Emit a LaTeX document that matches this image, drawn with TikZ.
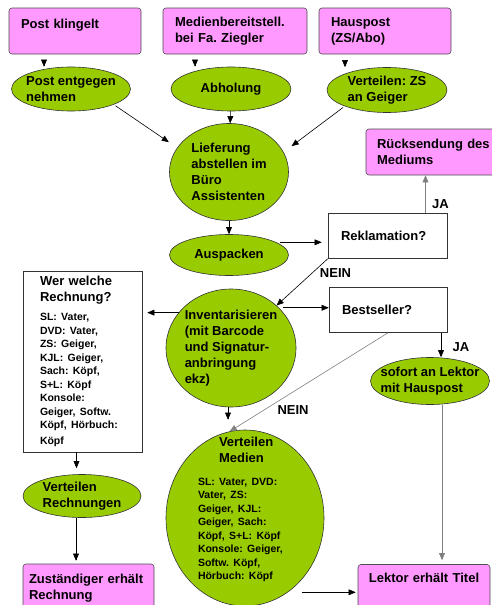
\documentclass[tikz,border=0pt]{standalone}
\usepackage{fontspec}
\setmainfont{Liberation Sans}
\usetikzlibrary{arrows,shapes}
\definecolor{grn}{HTML}{99CC00}
\definecolor{pnk}{HTML}{FF99FF}
\frenchspacing
\tikzset{
  pbox/.style={draw=black!70,fill=pnk,rounded corners=3pt,align=left,minimum height=46pt,inner xsep=12pt},
  qbox/.style={draw=black!80,fill=white,align=left,minimum height=45pt,inner xsep=13pt},
  blob/.style={draw=black!80,fill=grn,ellipse,align=left,inner xsep=-12pt,inner ysep=-12pt}
}

\begin{document}
\begin{tikzpicture}[x=1pt,y=-1pt,line width=.6pt,every node/.style={font=\bfseries\fontsize{13}{16}\selectfont}]
\useasboundingbox (0,0) rectangle (491,605);
\node[pbox,text width=108pt,text depth=14pt] (pk) at (75,31) {Post klingelt};
\node[pbox,text width=120pt] (mb) at (235,31) {Medienbereitstell.\\bei Fa. Ziegler};
\node[pbox,text width=108pt] (hp) at (385,31) {Hauspost\\(ZS/Abo)};
\node[blob,minimum width=119pt,minimum height=44pt] (pe) at (71,89) {Post entgegen\\nehmen};
\node[blob,minimum width=120pt,minimum height=44pt] (ab) at (231,89) {Abholung};
\node[blob,minimum width=120pt,minimum height=45pt] (vz) at (387,90) {Verteilen: ZS\\an Geiger};
\node[blob,minimum width=119pt,minimum height=97pt] (lief) at (229,172) {Lieferung\\abstellen im\\Büro\\Assistenten};
\node[pbox,text width=126pt,inner xsep=11pt] (rs) at (440,152) {Rücksendung des\\Mediums};
\node[blob,minimum width=119pt,minimum height=41pt] (aus) at (229,255) {Auspacken};
\node[qbox,text width=93pt] (rek) at (387.5,236) {Reklamation?};
\node[blob,minimum width=130pt,minimum height=118pt] (inv) at (231,348) {Inventarisieren\\(mit Barcode\\und Signatur-\\anbringung\\ekz)};
\node[qbox,text width=92pt] (best) at (388,310) {Bestseller?};
\node[qbox,text width=85pt,inner xsep=17pt,inner ysep=4pt,minimum height=181pt] (wer) at (82.5,361.5)
  {Wer welche\\Rechnung?\par\vspace{6pt}\fontsize{10.5}{13.5}\selectfont SL: Vater,\\DVD: Vater,\\ZS: Geiger,\\KJL: Geiger,\\Sach: Köpf,\\S+L: Köpf\\Konsole:\\Geiger, Softw.\\Köpf, Hörbuch:\\Köpf};
\node[blob,minimum width=119pt,minimum height=47pt] (so) at (430,381) {sofort an Lektor\\mit Hauspost};
\node[blob,text width=94pt,inner ysep=-30pt,minimum width=158pt,minimum height=176pt] (vm) at (245,518)
  {\hspace*{21pt}Verteilen\\\hspace*{21pt}Medien\par\vspace{9pt}\fontsize{10.5}{13.5}\selectfont SL: Vater, DVD:\\Vater, ZS:\\Geiger, KJL:\\Geiger, Sach:\\Köpf, S+L: Köpf\\Konsole: Geiger,\\Softw. Köpf,\\Hörbuch: Köpf\par\rule{0pt}{16pt}};
\node[blob,minimum width=118pt,minimum height=43pt] (vr) at (82,496) {Verteilen\\Rechnungen};
\node[pbox,text width=119pt,inner xsep=6pt,minimum height=48pt] (zu) at (88.5,588) {Zuständiger erhält\\Rechnung};
\node[pbox,text width=120pt,inner xsep=6pt,align=center,minimum height=47pt,text depth=20pt] (lek) at (424,588) {Lektor erhält Titel};
% top row
\draw[-triangle 45,shorten <=6pt] ([xshift=-31pt]pk.south) -- ([xshift=-31pt]pk.south |- pe.north);
\draw[-triangle 45,shorten <=6pt] ([xshift=-40pt]mb.south) -- ([xshift=-40pt]mb.south |- ab.north);
\draw[-triangle 45,shorten <=6pt] ([xshift=-40pt]hp.south) -- ([xshift=-40pt]hp.south |- vz.north);
\draw[-triangle 45] (ab) -- (lief);
\draw[-triangle 45,shorten <=2pt,shorten >=10pt] (pe.-20) -- (lief.155);
\draw[-triangle 45,shorten <=2pt,shorten >=10pt] (vz.-159) -- (lief.20);
% middle
\draw[-triangle 45] (lief) -- (aus);
\draw[-triangle 45,shorten <=4pt,shorten >=6pt] (aus.15) -- (aus.15 -| rek.west);
\draw[-triangle 45,gray] ([xshift=38pt]rek.north) -- node[pos=.25,right=3pt,black] {JA} ([xshift=38pt]rek.north |- rs.south);
\draw[-triangle 45] (rek.south west) -- node[pos=.3,right=4pt] {NEIN} (inv.43);
\draw[-triangle 45,shorten <=4pt] (inv.40) -- (inv.40 -| best.west);
\draw[-triangle 45,shorten >=5pt] (inv.146) -- (inv.146 -| wer.east);
\draw[-triangle 45] ([xshift=53pt]best.south) -- node[pos=.6,right=8pt] {JA} ([xshift=53pt]best.south |- so.north);
\draw[-triangle 45,gray] (best.south) -- node[pos=.6,below=10pt,black] {NEIN} (vm.100);
\draw[-triangle 45,shorten >=10pt] ([xshift=-3pt]inv.south) -- ([xshift=-3pt]inv.south |- vm.north);
% bottom
\draw[-triangle 45,gray,shorten >=4pt] ([xshift=12pt]so.south) -- ([xshift=12pt]so.south |- lek.north);
\draw[-triangle 45,shorten <=14pt,shorten >=2pt] (vm.-60) -- (vm.-60 -| lek.west);
\draw[-triangle 45,shorten >=6pt] ([xshift=-6pt]wer.south) -- ([xshift=-6pt]wer.south |- vr.north);
\draw[-triangle 45,shorten >=3pt] ([xshift=-6pt]vr.south) -- ([xshift=-6pt]vr.south |- zu.north);
\end{tikzpicture}
\end{document}
